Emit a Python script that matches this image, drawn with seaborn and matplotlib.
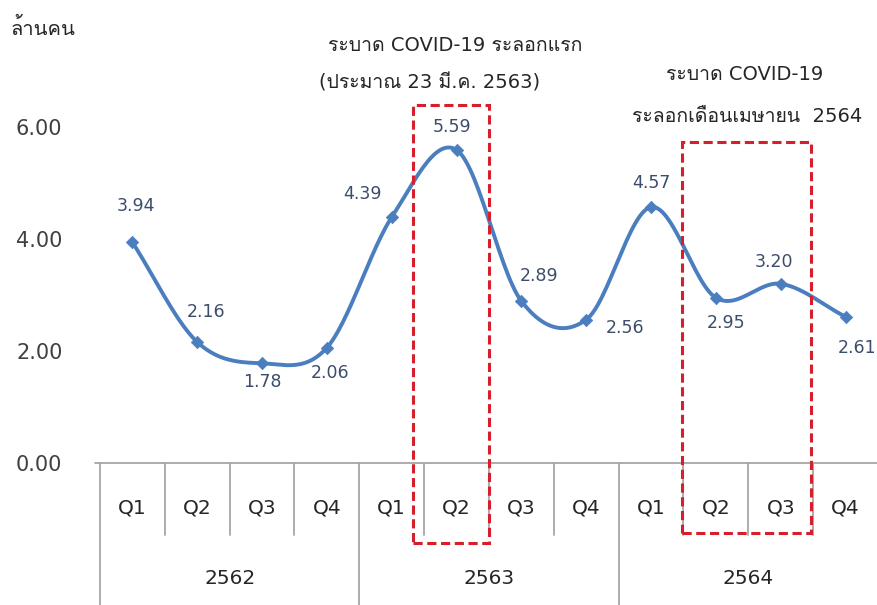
import numpy as np
import pandas as pd
import matplotlib
matplotlib.use("Agg")
import matplotlib.pyplot as plt
import seaborn as sns
from matplotlib import font_manager, ft2font
from matplotlib.patches import Rectangle

# data
quarters = ['Q1', 'Q2', 'Q3', 'Q4'] * 3
years = ['2562', '2563', '2564']
values = [3.94, 2.16, 1.78, 2.06, 4.39, 5.59, 2.89, 2.56, 4.57, 2.95, 3.20, 2.61]
yticks = [0.0, 2.0, 4.0, 6.0]

# label offsets in pixels (dx, dy)
label_offsets = [(4, 36), (9, 30), (0, -19), (3, -25), (-29, 23), (-5, 23),
                 (18, 25), (39, -8), (0, 24), (10, -25), (-7, 22), (11, -31)]


def find_thai_font():
    for fe in font_manager.fontManager.ttflist:
        try:
            if ord('ก') in ft2font.FT2Font(fe.fname).get_charmap():
                return fe.name
        except Exception:
            continue
    return None


sns.set_style("white")
thai = find_thai_font()
fams = ['DejaVu Sans'] + ([thai] if thai else [])
plt.rcParams['font.family'] = fams

line_col = '#4A7EBE'
lab_col = '#3B4D6B'
red = '#D61F2C'
grey = '#A6A6A6'
txt = '#262626'

fig = plt.figure(figsize=(8.78, 6.05), dpi=100)
ax = fig.add_axes([100 / 878, 1 - 463 / 605, 778 / 878, 364 / 605])

x = np.arange(len(values))

# Catmull-Rom smoothing like Excel's smoothed line
pts = np.column_stack([x, values]).astype(float)
ext = np.vstack([2 * pts[0] - pts[1], pts, 2 * pts[-1] - pts[-2]])
curve = []
for i in range(1, len(ext) - 2):
    p0, p1, p2, p3 = ext[i - 1], ext[i], ext[i + 1], ext[i + 2]
    t = np.linspace(0, 1, 30)[:, None]
    seg = 0.5 * ((2 * p1) + (-p0 + p2) * t + (2 * p0 - 5 * p1 + 4 * p2 - p3) * t ** 2
                 + (-p0 + 3 * p1 - 3 * p2 + p3) * t ** 3)
    curve.append(seg)
curve = np.vstack(curve)
smooth = pd.DataFrame({'x': curve[:, 0], 'y': curve[:, 1]})
df = pd.DataFrame({'x': x, 'y': values})

sns.lineplot(data=smooth, x='x', y='y', ax=ax, color=line_col, linewidth=2.8, sort=False)
sns.scatterplot(data=df, x='x', y='y', ax=ax, color=line_col, marker='D', s=40,
                edgecolor=line_col, zorder=3)

for xi, v, (dx, dy) in zip(x, values, label_offsets):
    ax.annotate(f'{v:.2f}', (xi, v), xytext=(dx, dy), textcoords='offset pixels',
                ha='center', va='center', fontsize=12.5, color=lab_col)

ax.set_xlim(-0.5, len(values) - 0.5)
ax.set_ylim(0, 6.5)
ax.set_yticks(yticks)
ax.set_yticklabels([f'{t:.2f}' for t in yticks], fontsize=15, color='#404040')
ax.tick_params(axis='y', length=0, pad=27)
ax.set_xticks([])
ax.set_xlabel('')
ax.set_ylabel('')
for s in ax.spines.values():
    s.set_visible(False)

# category axis below the plot
tr = ax.get_xaxis_transform()
ax.plot([-0.58, len(values) - 0.5], [0, 0], transform=tr, color=grey, lw=1.3, clip_on=False)
for i in range(len(values) + 1):
    bottom = -0.39 if i % 4 == 0 else -0.198
    ax.plot([i - 0.5, i - 0.5], [0, bottom], transform=tr, color=grey, lw=1.3, clip_on=False)
for xi, q in zip(x, quarters):
    ax.text(xi, -0.124, q, transform=tr, ha='center', va='center', fontsize=14.5, color=txt)
for j, yr in enumerate(years):
    ax.text(j * 4 + 1.5, -0.316, yr, transform=tr, ha='center', va='center', fontsize=14.5,
            color=txt)

# red dashed boxes
for (x0, x1, y0, y1) in [(4.33, 5.50, -1.43, 6.39), (8.48, 10.47, -1.25, 5.73)]:
    ax.add_patch(Rectangle((x0, y0), x1 - x0, y1 - y0, fill=False, edgecolor=red,
                           linestyle=(0, (3, 1.5)), linewidth=2.2, clip_on=False, zorder=4))

ax.text(4.98, 7.46, 'ระบาด COVID-19 ระลอกแรก', ha='center', va='center', fontsize=14, color=txt)
ax.text(4.59, 6.79, '(ประมาณ 23 มี.ค. 2563)', ha='center', va='center', fontsize=14, color=txt)
ax.text(9.45, 6.93, 'ระบาด COVID-19', ha='center', va='center', fontsize=14, color=txt)
ax.text(9.48, 6.18, 'ระลอกเดือนเมษายน  2564', ha='center', va='center', fontsize=14, color=txt)
fig.text(43 / 878, 1 - 28 / 605, 'ล้านคน', ha='center', va='center', fontsize=14.5, color=txt)

fig.savefig('out.png', dpi=100)
